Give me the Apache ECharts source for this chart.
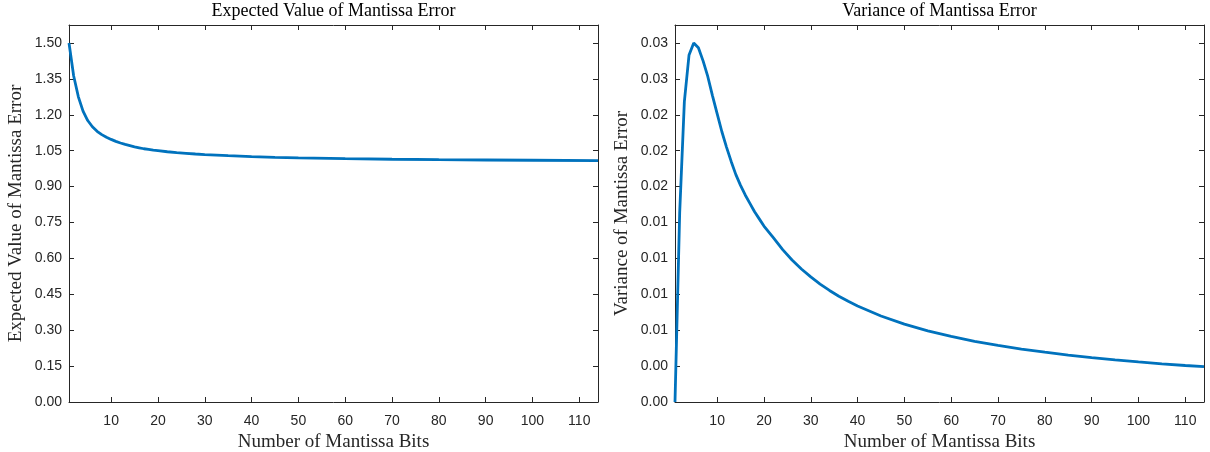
<!DOCTYPE html>
<html>
<head>
<meta charset="utf-8">
<script src="https://cdn.jsdelivr.net/npm/echarts@6/dist/echarts.min.js"></script>
<style>
  html, body { margin: 0; padding: 0; background: #ffffff; }
  #chart { width: 1210px; height: 452px; }
</style>
</head>
<body>
<div id="chart"></div>
<script>
// Expected value of the mantissa error per number of mantissa bits
const bitsMean = [1, 2, 3, 4, 5, 6, 7, 8, 9, 10, 11, 12, 13, 14, 15, 16, 17, 18, 19, 20, 22, 24, 26, 28, 30, 35, 40, 45, 50, 60, 70, 80, 90, 100, 114];
const meanError = [1.500, 1.362, 1.275, 1.215, 1.176, 1.150, 1.131, 1.117, 1.106, 1.097, 1.089, 1.082, 1.076, 1.071, 1.066, 1.062, 1.058, 1.055, 1.052, 1.050, 1.0455, 1.042, 1.039, 1.036, 1.0335, 1.029, 1.025, 1.022, 1.020, 1.0165, 1.0142, 1.0124, 1.011, 1.0099, 1.0087];

// Variance of the mantissa error per number of mantissa bits
const bitsVar = [1, 2, 3, 4, 5, 6, 7, 8, 9, 10, 11, 12, 13, 14, 15, 16, 17, 18, 19, 20, 22, 24, 26, 28, 30, 32, 34, 36, 38, 40, 45, 50, 55, 60, 65, 70, 75, 80, 85, 90, 95, 100, 105, 110, 114];
const varError = [0.0000, 0.0158, 0.0251, 0.0290, 0.0300, 0.0296, 0.0285, 0.0272, 0.0256, 0.0241, 0.0226, 0.0213, 0.0201, 0.0190, 0.0181, 0.0173, 0.0166, 0.0159, 0.0153, 0.0147, 0.01373, 0.01273, 0.01187, 0.01111, 0.01045, 0.00985, 0.00932, 0.00884, 0.00841, 0.00802, 0.00719, 0.00651, 0.00595, 0.00548, 0.00507, 0.00473, 0.00442, 0.00416, 0.00392, 0.00371, 0.00352, 0.00335, 0.00319, 0.00305, 0.00295];

// Axis ranges and tick labels
const bitsRange = [1, 114];
const bitTicks = [10, 20, 30, 40, 50, 60, 70, 80, 90, 100, 110];
const meanRange = [0, 1.575];
const meanTicks = [0, 0.15, 0.30, 0.45, 0.60, 0.75, 0.90, 1.05, 1.20, 1.35, 1.50];
const meanTickLabels = ['0.00', '0.15', '0.30', '0.45', '0.60', '0.75', '0.90', '1.05', '1.20', '1.35', '1.50'];
const varRange = [0, 0.0315];
const varTicks = [0, 0.003, 0.006, 0.009, 0.012, 0.015, 0.018, 0.021, 0.024, 0.027, 0.030];
const varTickLabels = ['0.00', '0.00', '0.01', '0.01', '0.01', '0.01', '0.02', '0.02', '0.02', '0.03', '0.03'];

const titles = ['Expected Value of Mantissa Error', 'Variance of Mantissa Error'];
const xName = 'Number of Mantissa Bits';
const yNames = ['Expected Value of Mantissa Error', 'Variance of Mantissa Error'];

const AXIS_COLOR = '#262626';
const LINE_COLOR = '#0072BD';
const SERIF = '"Liberation Serif", "Times New Roman", serif';
const SANS = '"Liberation Sans", Arial, Helvetica, sans-serif';

// Fixed plot boxes; labels sit outside them
const grids = [
  { left: 69, top: 25, width: 529, height: 377, containLabel: false, outerBoundsMode: 'none' },
  { left: 675, top: 25, width: 529, height: 377, containLabel: false, outerBoundsMode: 'none' }
];

function labelFor(ticks, labels) {
  return function (v) {
    let best = 0;
    for (let i = 1; i < ticks.length; i++) {
      if (Math.abs(ticks[i] - v) < Math.abs(ticks[best] - v)) best = i;
    }
    return labels[best];
  };
}

function xAxes(gridIndex) {
  const base = {
    type: 'value', gridIndex: gridIndex,
    min: bitsRange[0], max: bitsRange[1],
    axisLine: { show: true, onZero: false, lineStyle: { color: AXIS_COLOR, width: 1 } },
    axisTick: { show: true, inside: true, length: 5, customValues: bitTicks, lineStyle: { color: AXIS_COLOR } },
    splitLine: { show: false }
  };
  return [
    Object.assign({}, base, {
      position: 'bottom',
      name: xName, nameLocation: 'middle', nameGap: 28,
      nameTextStyle: { fontFamily: SERIF, fontSize: 19, color: '#262626' },
      axisLabel: { show: true, customValues: bitTicks, margin: 12, fontFamily: SANS, fontSize: 14, color: '#262626' }
    }),
    Object.assign({}, base, {
      position: 'top',
      axisLabel: { show: false }
    })
  ];
}

function yAxes(gridIndex, range, ticks, labels, name) {
  const base = {
    type: 'value', gridIndex: gridIndex,
    min: range[0], max: range[1],
    axisLine: { show: true, onZero: false, lineStyle: { color: AXIS_COLOR, width: 1 } },
    axisTick: { show: true, inside: true, length: 5, customValues: ticks, lineStyle: { color: AXIS_COLOR } },
    splitLine: { show: false }
  };
  return [
    Object.assign({}, base, {
      position: 'left',
      name: name, nameLocation: 'middle', nameGap: 43, nameRotate: 90,
      nameTextStyle: { fontFamily: SERIF, fontSize: 19, color: '#262626' },
      axisLabel: {
        show: true, customValues: ticks, margin: 7,
        fontFamily: SANS, fontSize: 14, color: '#262626',
        formatter: labelFor(ticks, labels)
      }
    }),
    Object.assign({}, base, {
      position: 'right',
      axisLabel: { show: false }
    })
  ];
}

function pairs(xs, ys) {
  return xs.map((x, i) => [x, ys[i]]);
}

const chart = echarts.init(document.getElementById('chart'), null, { renderer: 'canvas' });

chart.setOption({
  animation: false,
  backgroundColor: '#ffffff',
  grid: grids,
  xAxis: [].concat(xAxes(0), xAxes(1)),
  yAxis: [].concat(
    yAxes(0, meanRange, meanTicks, meanTickLabels, yNames[0]),
    yAxes(1, varRange, varTicks, varTickLabels, yNames[1])
  ),
  graphic: titles.map((t, i) => ({
    type: 'text',
    x: grids[i].left + grids[i].width / 2,
    y: 11,
    style: {
      text: t,
      textAlign: 'center',
      textVerticalAlign: 'middle',
      fontFamily: SERIF,
      fontSize: 18,
      fill: '#000000'
    }
  })),
  series: [
    {
      type: 'line', xAxisIndex: 0, yAxisIndex: 0,
      data: pairs(bitsMean, meanError),
      showSymbol: false, smooth: false,
      lineStyle: { color: LINE_COLOR, width: 2.8 }
    },
    {
      type: 'line', xAxisIndex: 2, yAxisIndex: 2,
      data: pairs(bitsVar, varError),
      showSymbol: false, smooth: false,
      lineStyle: { color: LINE_COLOR, width: 2.8 }
    }
  ]
});
</script>
</body>
</html>
